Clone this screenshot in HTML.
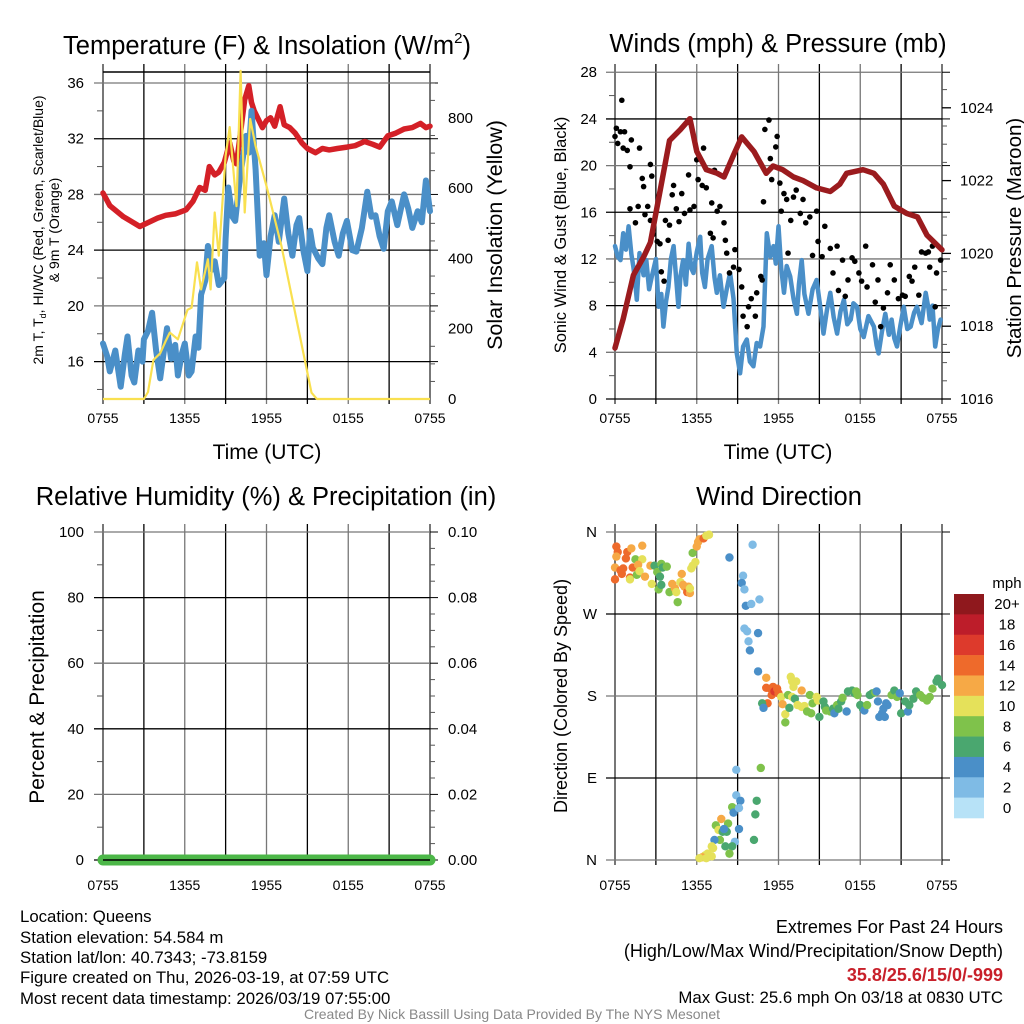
<!DOCTYPE html>
<html><head><meta charset="utf-8"><style>
html,body{margin:0;padding:0;background:#fff;}
svg{display:block;font-family:"Liberation Sans",Arial,sans-serif;}
</style></head><body>
<svg id="chart" xmlns="http://www.w3.org/2000/svg" width="1024" height="1024" viewBox="0 0 1024 1024">
<rect x="0" y="0" width="1024" height="1024" fill="#fff"/>
<g id="p1"></g>
<g id="p2"></g>
<g id="p3"></g>
<g id="p4"></g>

<text x="267" y="54" font-size="25.5" text-anchor="middle">Temperature (F) &amp; Insolation (W/m<tspan font-size="15" dy="-11">2</tspan><tspan dy="11">)</tspan></text>
<text transform="translate(43,230) rotate(-90)" font-size="14" text-anchor="middle">2m T, T<tspan font-size="9" dy="3">d</tspan><tspan dy="-3">, HI/WC (Red, Green, Scarlet/Blue)</tspan></text>
<text transform="translate(59,230) rotate(-90)" font-size="14" text-anchor="middle">&amp; 9m T (Orange)</text>
<text transform="translate(502,235) rotate(-90)" font-size="21.5" text-anchor="middle">Solar Insolation (Yellow)</text>
<text x="267" y="459" font-size="21" text-anchor="middle">Time (UTC)</text>

<text x="778" y="52" font-size="25.5" text-anchor="middle">Winds (mph) &amp; Pressure (mb)</text>
<text transform="translate(566,235) rotate(-90)" font-size="16.5" text-anchor="middle">Sonic Wind &amp; Gust (Blue, Black)</text>
<text transform="translate(1021,238) rotate(-90)" font-size="20.5" text-anchor="middle">Station Pressure (Maroon)</text>
<text x="778" y="459" font-size="21" text-anchor="middle">Time (UTC)</text>

<text x="266" y="505" font-size="25.5" text-anchor="middle">Relative Humidity (%) &amp; Precipitation (in)</text>
<text transform="translate(44,697) rotate(-90)" font-size="21" text-anchor="middle">Percent &amp; Precipitation</text>

<text x="779" y="505" font-size="25.5" text-anchor="middle">Wind Direction</text>
<text transform="translate(567,696) rotate(-90)" font-size="18" text-anchor="middle">Direction (Colored By Speed)</text>

<g font-size="16.8">
<text x="20" y="922">Location: Queens</text>
<text x="20" y="943">Station elevation: 54.584 m</text>
<text x="20" y="963">Station lat/lon: 40.7343; -73.8159</text>
<text x="20" y="983">Figure created on Thu, 2026-03-19, at 07:59 UTC</text>
<text x="20" y="1004">Most recent data timestamp: 2026/03/19 07:55:00</text>
</g>
<g font-size="18" text-anchor="end">
<text x="1003" y="933">Extremes For Past 24 Hours</text>
<text x="1003" y="957">(High/Low/Max Wind/Precipitation/Snow Depth)</text>
<text x="1003" y="981" fill="#c8202a" font-weight="bold">35.8/25.6/15/0/-999</text>
<text x="1003" y="1003" font-size="16.8">Max Gust: 25.6 mph On 03/18 at 0830 UTC</text>
</g>
<text x="512" y="1019" font-size="14" fill="#888" text-anchor="middle">Created By Nick Bassill Using Data Provided By The NYS Mesonet</text>
</svg>
<script>
// ---- data ----
const timeLabels = ["0755","1355","1955","0155","0755"];
const tempTicks = [36,32,28,24,20,16];
const insolTicks = [800,600,400,200,0];
const windTicks = [28,24,20,16,12,8,4,0];
const presTicks = [1024,1022,1020,1018,1016];
const rhTicks = [100,80,60,40,20,0];
const precipTicks = ["0.10","0.08","0.06","0.04","0.02","0.00"];
const dirLabels = ["N","W","S","E","N"];
const dirTickVals = [360,270,180,90,0];
const speedBins = ["20+","18","16","14","12","10","8","6","4","2","0"];

const tempHours = [0,0.5,1.5,2.7,4.0,4.6,5.3,6.1,6.6,7.1,7.5,7.8,8.2,8.5,8.9,9.3,9.6,9.8,10.1,10.4,10.7,10.9,11.1,11.4,11.7,12.0,12.3,12.6,13.0,13.3,13.7,14.1,14.6,15.0,15.6,16.1,16.6,17.2,17.9,18.5,19.2,19.8,20.3,20.6,20.9,21.5,22.1,22.7,23.3,23.7,24];
const tempVals  = [28.1,27.2,26.4,25.7,26.3,26.5,26.6,26.9,27.5,28.5,28.3,30.0,29.4,29.6,30.3,31.7,30.4,30.2,32.5,34.8,35.8,34.6,34.0,33.4,32.8,33.3,33.5,32.9,34.3,33.0,32.8,32.4,31.7,31.3,31.0,31.3,31.2,31.3,31.4,31.5,31.8,31.6,31.4,31.8,32.2,32.4,32.7,32.8,33.1,32.8,32.9];

const dewHours = [0,0.3,0.5,0.9,1.3,1.6,1.8,2.1,2.3,2.6,2.9,3.0,3.3,3.6,3.9,4.2,4.5,4.7,5.0,5.3,5.5,5.8,6.0,6.3,6.5,6.8,7.0,7.2,7.5,7.7,8.0,8.2,8.5,8.9,9.0,9.2,9.5,9.7,10.0,10.2,10.5,10.7,10.9,11.2,11.5,11.8,12.0,12.3,12.6,12.9,13.3,13.6,13.9,14.2,14.4,14.7,15.0,15.2,15.4,15.8,16.1,16.4,16.6,17.0,17.3,17.6,17.9,18.3,18.6,19.0,19.4,19.7,20.0,20.3,20.6,20.9,21.2,21.6,22.1,22.4,22.7,23.1,23.4,23.7,24];
const dewVals  = [17.3,16.4,15.3,16.8,14.2,16.5,17.8,15.0,14.5,16.8,16.0,17.6,18.2,19.5,16.8,14.8,17.0,18.4,16.2,17.2,15.0,16.6,17.3,15.0,15.3,17.8,17.0,20.8,21.8,24.3,22.6,23.2,21.5,22.0,24.8,28.5,26.4,26.1,28.8,30.2,32.2,31.0,34.0,29.8,23.6,24.5,22.2,25.0,26.5,24.6,27.7,25.2,23.6,25.8,26.3,24.0,22.5,25.4,24.2,23.4,23.0,25.6,26.5,24.6,23.6,25.2,26.1,24.0,23.9,25.6,28.2,26.4,26.5,25.0,24.1,26.8,27.5,25.8,28.0,27.0,25.6,26.8,26.0,29.0,26.8];

const insHours = [0,3.0,3.3,3.7,4.2,4.6,4.9,5.5,6.2,6.5,6.9,7.2,7.7,7.9,8.2,8.5,9.0,9.3,9.8,10.1,10.4,10.8,11.2,12.0,13.1,14.3,15.3,15.7,24];
const insVals  = [0,0,20,111,130,165,189,170,254,260,389,312,398,312,531,408,692,774,549,934,531,797,720,606,435,208,18,0,0];

const presHours = [0,0.6,1.35,2.1,2.6,3.2,4.0,4.8,5.5,6.0,6.7,7.5,8.0,8.7,9.3,10.2,11.1,11.6,12.3,13.1,13.8,14.8,15.8,16.5,17.0,18.2,19.0,19.7,20.5,21.4,22.2,22.9,24];
const presVals  = [1017.4,1018.2,1019.4,1019.9,1020.3,1021.5,1023.1,1023.4,1023.7,1022.8,1022.3,1022.2,1022.1,1022.7,1023.2,1022.8,1022.2,1022.4,1022.3,1022.1,1022.0,1021.8,1021.7,1021.9,1022.2,1022.3,1022.2,1021.9,1021.3,1021.1,1021.0,1020.5,1020.1];

const sonicHours = [0,0.2,0.4,0.6,0.8,1.0,1.2,1.35,1.5,1.6,1.8,2.1,2.3,2.5,2.7,3.0,3.2,3.4,3.55,3.75,3.92,4.1,4.3,4.5,4.65,4.8,5.0,5.2,5.4,5.6,5.76,6.0,6.25,6.4,6.6,6.8,7.1,7.3,7.47,7.7,7.96,8.2,8.45,8.7,8.94,9.18,9.4,9.67,9.9,10.16,10.4,10.65,10.9,11.14,11.4,11.63,11.8,12.0,12.2,12.4,12.6,12.86,13.1,13.35,13.5,13.7,13.9,14.2,14.5,14.8,15.05,15.3,15.55,15.8,16.05,16.3,16.55,16.8,17.05,17.3,17.5,17.76,18.0,18.25,18.6,19.0,19.2,19.35,19.6,19.84,20.1,20.3,20.5,20.7,20.95,21.2,21.45,21.7,21.95,22.16,22.5,22.8,23.0,23.1,23.3,23.5,23.7,23.9];
const sonicVals  = [13.1,12.2,11.9,14.2,12.8,14.8,12.4,11.3,9.8,8.5,12.5,10.6,11.9,9.4,10.5,12.0,7.9,9.0,6.2,8.4,9.6,12.0,13.1,10.2,7.9,10.5,11.9,9.8,13.3,11.2,10.8,12.6,13.9,10.8,9.6,12.0,13.1,10.4,9.1,10.6,7.9,9.4,10.8,8.6,3.9,2.2,4.5,5.1,3.2,2.8,4.8,4.5,6.2,14.2,12.2,13.1,11.6,14.8,11.2,9.1,11.4,10.5,8.6,7.3,9.8,11.9,9.0,7.3,9.4,10.2,8.0,5.6,7.6,9.1,7.0,5.6,7.5,8.5,6.4,6.8,8.2,7.9,6.0,5.3,7.1,6.2,4.6,3.9,5.8,7.3,5.5,6.8,5.2,4.5,6.3,7.9,6.0,6.2,7.4,7.9,6.5,9.1,7.8,6.8,8.0,4.5,6.0,6.8];

const gustHours = [0,0.1,0.2,0.4,0.5,0.6,0.7,0.9,1.1,1.2,1.8,2.0,2.1,2.6,2.7,1.1,1.5,1.7,2.2,2.4,2.6,2.8,3.1,3.3,3.4,3.6,3.7,3.9,4.0,4.2,4.3,4.5,4.7,4.9,5.1,5.4,5.5,5.8,6.0,6.1,6.4,6.5,6.7,7.0,7.1,7.2,7.3,7.5,7.7,8.0,8.1,8.2,8.4,8.7,8.8,9.1,9.3,9.4,9.7,9.8,10.0,10.3,10.4,10.7,10.8,10.9,11.0,11.3,11.4,11.5,11.8,11.9,12.1,12.2,12.4,12.6,12.7,12.9,13.1,13.3,13.6,13.8,14.0,14.3,14.5,14.8,14.9,15.2,15.4,15.8,16.0,16.3,16.4,16.7,16.9,17.1,17.4,17.6,17.9,18.1,18.4,18.5,18.9,19.1,19.3,19.5,19.7,20.0,20.2,20.5,20.8,21.1,21.3,21.6,21.8,22.0,22.3,22.5,22.8,23.0,23.1,23.3,23.5,23.6,23.9];
const gustVals  = [22.5,23.2,21.9,22.9,25.6,21.5,22.9,21.3,19.9,22.2,21.5,18.9,18.2,20.1,19.1,16.3,15.1,16.5,15.8,16.5,15.3,14.1,13.5,13.3,10.9,10.1,15.3,13.6,14.9,17.5,18.3,16.3,15.2,17.6,15.9,19.2,16.2,16.5,20.5,18.8,18.3,21.5,18.1,14.2,16.8,13.8,19.6,16.1,16.5,15.1,13.6,12.5,10.8,11.3,12.8,11.1,9.6,7.1,6.2,7.9,8.6,7.1,9.1,10.5,10.2,16.9,23.1,23.9,20.6,18.8,21.6,22.5,18.5,16.1,17.6,17.1,12.5,15.3,17.3,17.9,15.9,17.1,15.1,15.6,12.3,16.1,13.5,12.2,14.8,12.9,10.8,13.1,9.3,11.9,8.8,10.2,12.1,11.8,10.8,10.1,13.1,9.6,11.5,8.3,10.2,6.2,7.8,9.1,11.5,10.2,8.6,8.9,8.8,10.5,10.1,11.3,8.9,12.6,12.5,12.6,11.3,13.1,7.9,10.8,11.9];

const dirHours = [0.1,0.2,0.1,0.9,0.8,1.2,2.0,1.5,2.0,0,0.4,0.6,1.3,1.7,0.5,0,1.1,1.1,1.6,1.8,2.2,2.6,2.9,2.7,3.1,3.4,3.5,3.8,3.3,3.2,3.4,4.0,4.2,4.4,4.5,4.6,4.9,4.8,5.0,5.1,5.3,5.5,5.4,5.5,5.6,5.7,5.9,5.7,6.0,6.1,6.2,6.5,6.7,6.9,
8.4,10.1,9.4,9.3,9.5,9.6,10.0,10.6,9.5,9.7,9.8,9.9,10.5,10.5,
11.1,11.1,11.4,11.6,11.5,11.7,11.9,12.0,11.2,10.8,10.9,12.2,12.3,12.5,12.5,12.8,12.9,13.1,13.0,13.3,13.7,12.7,13.0,13.2,13.4,13.7,13.9,14.1,14.3,14.4,14.5,14.8,14.9,15.0,15.3,15.4,15.5,15.8,16.0,16.1,16.3,16.4,16.6,16.7,17.0,17.1,17.4,17.6,17.7,17.8,18.0,18.2,18.3,18.5,18.7,18.9,19.1,19.2,19.3,19.4,19.6,19.7,19.8,19.9,20.0,20.3,20.5,20.7,20.9,21.0,21.3,21.5,21.6,21.9,22.1,22.4,22.6,22.9,23.1,23.3,23.6,23.7,24.0,
8.9,10.7,8.9,9.2,10.4,8.6,8.7,9.1,10.3,7.8,7.4,7.6,7.9,8.2,8.3,8.0,7.7,7.3,9.1,8.8,10.2,8.1,8.6,8.4,7.1,7.2,6.8,6.6,6.4,6.7,7.1,6.2];
const dirVals = [344,338,333,338,331,342,345,330,330,321,318,320,321,324,314,308,310,308,313,317,311,323,323,303,316,325,321,322,311,297,302,294,303,298,294,283,314,305,302,300,294,293,300,298,320,323,327,337,344,349,352,353,356,357,
332,346,312,304,297,279,281,286,254,251,240,230,249,207,
200,189,188,190,181,185,188,183,172,172,167,179,171,160,151,167,201,190,196,196,186,181,179,177,170,168,169,163,181,161,172,179,175,157,174,168,164,163,166,161,170,166,174,178,163,185,186,183,185,181,170,166,164,170,181,183,184,185,174,157,161,166,157,172,170,181,186,179,183,161,174,163,170,177,185,181,178,175,179,188,196,199,192,
99,101,71,65,65,58,52,57,50,45,38,33,31,31,40,34,22,22,34,20,22,15,15,7,15,13,7,5,3,2,4,2];
const dirSpeeds = [14,14,12,14,14,12,12,8,10,12,14,14,14,12,14,14,14,10,8,10,12,12,6,10,8,8,6,8,6,8,6,8,12,12,10,8,12,10,12,12,14,12,12,10,10,10,10,8,12,12,12,14,10,10,
4,2,2,4,2,4,2,2,2,2,2,4,4,4,
12,14,14,14,14,16,14,14,14,6,4,10,12,10,8,6,10,10,10,10,12,8,10,6,10,10,10,8,8,8,8,10,10,6,6,6,8,8,6,4,8,6,6,8,4,6,6,6,8,8,6,6,4,8,6,6,8,4,4,4,4,4,4,4,4,8,6,8,4,6,6,4,6,6,6,8,8,8,8,8,6,6,
6,2,8,2,4,6,8,4,2,6,12,8,10,6,6,8,4,8,4,4,2,6,6,6,8,10,10,10,10,12,10,10];

const precipHours = [0,24];
const precipVals = [0,0];

// ---- helpers ----
const NS = "http://www.w3.org/2000/svg";
function mk(parent, tag, attrs){
  const e = document.createElementNS(NS, tag);
  for (const k in attrs) e.setAttribute(k, attrs[k]);
  parent.appendChild(e);
  return e;
}
function txt(parent, x, y, s, anchor, size){
  const t = mk(parent, "text", {x:x, y:y, "font-size":size||14, "text-anchor":anchor||"middle"});
  t.textContent = s;
  return t;
}
function linePath(xs, ys, fx, fy){
  let d = "";
  const n = Math.min(xs.length, ys.length);
  for (let i=0;i<n;i++) d += (i?"L":"M") + fx(xs[i]).toFixed(1) + "," + fy(ys[i]).toFixed(1);
  return d;
}
function speedColor(s){
  const cols = ["#b7e2f7","#7fbbe5","#4a8fc8","#4aa76f","#7fc24b","#e5e15a","#f6a946","#ee6a2b","#dd3a2c","#bd1d2a","#8f181d"];
  if (s === undefined || isNaN(s)) s = 10;
  const i = Math.min(10, Math.max(0, Math.round(s/2)));
  return cols[i];
}

function frame(g, X0, X1, Y0, Y1, hLines, minorYs, rightMinor, panelName){
  for (let k=0;k<=8;k++){
    const x = X0 + k*(X1-X0)/8;
    const l = mk(g,"line",{x1:x,x2:x,y1:Y0-8,y2:Y1+5,stroke:(k%2?"#000":"#777"),"stroke-width":(k===0||k===8)?2:1.3});
    
    
  }
  hLines.forEach((y,i)=>{
    const l = mk(g,"line",{x1:X0-9,x2:X1,y1:y,y2:y,stroke:(i%2?"#000":"#777"),"stroke-width":1.3});
    
    
    const r = mk(g,"line",{x1:X1,x2:X1+8,y1:y,y2:y,stroke:"#000","stroke-width":1});
    
    
  });
  minorYs.forEach(y=>{
    const l = mk(g,"line",{x1:X0-6,x2:X0,y1:y,y2:y,stroke:"#555","stroke-width":1});
    
    
  });
  rightMinor.forEach(y=>{
    const l = mk(g,"line",{x1:X1,x2:X1+5,y1:y,y2:y,stroke:"#555","stroke-width":1});
    
    
  });
}

// ===== Panel 1 =====
(function(){
  const g = document.getElementById("p1");
  const X0=103,X1=430;
  const sx = h => X0 + h*(X1-X0)/24;
  const yT = t => 83 + (36-t)*13.93;
  const yW = w => 399 - w*0.3513;
  const minor=[]; for (let t=34;t>=14;t-=4) minor.push(yT(t));
  const rminor=[]; for (let w=900;w>=50;w-=50) if (w%200) rminor.push(yW(w));
  frame(g,X0,X1,72,399,tempTicks.map(yT),minor,rminor,"temperature");
  const top = mk(g,"line",{x1:X0,x2:X1,y1:72,y2:72,stroke:"#000","stroke-width":1.5});
  
  
  const bot = mk(g,"line",{x1:X0,x2:X1,y1:399,y2:399,stroke:"#000","stroke-width":1.5});
  
  
  tempTicks.forEach(t=>{ const e=txt(g,84,yT(t)+5,String(t),"end",15);
    
     });
  insolTicks.forEach(w=>{ const e=txt(g,448,yW(w)+5,String(w),"start",15);
    
     });
  timeLabels.forEach((s,i)=>{ const e=txt(g,sx(i*6),423,s,"middle",14);
    
     });
  const red = mk(g,"path",{d:linePath(tempHours,tempVals,sx,yT),fill:"none",stroke:"#d42027","stroke-width":5.5,"stroke-linejoin":"round","stroke-linecap":"round"});
  
  
  const blue = mk(g,"path",{d:linePath(dewHours,dewVals,sx,yT),fill:"none",stroke:"#4a8fc8","stroke-width":6,"stroke-linejoin":"round","stroke-linecap":"round"});
  
  
  const yel = mk(g,"path",{d:linePath(insHours,insVals,sx,yW),fill:"none",stroke:"#f9e050","stroke-width":2.2,"stroke-linejoin":"round"});
  
  
})();

// ===== Panel 2 =====
(function(){
  const g = document.getElementById("p2");
  const X0=615,X1=942;
  const sx = h => X0 + h*(X1-X0)/24;
  const yV = v => 399 - v*11.67;
  const yP = p => 399 - (p-1016)*36.4;
  const minor=[]; for (let v=26;v>=2;v-=4) minor.push(yV(v));
  const rminor=[]; for (let p=1016.5;p<1025;p+=0.5) if ((p*2)%4) rminor.push(yP(p));
  frame(g,X0,X1,72,399,windTicks.map(yV),minor,rminor,"winds");
  presTicks.forEach(p=>{ const l=mk(g,"line",{x1:X1,x2:X1+9,y1:yP(p),y2:yP(p),stroke:"#000","stroke-width":1.3});
    
     });
  windTicks.forEach(v=>{ const e=txt(g,597,yV(v)+5,String(v),"end",15);
    
     });
  presTicks.forEach(p=>{ const e=txt(g,960,yP(p)+5,String(p),"start",15);
    
     });
  timeLabels.forEach((s,i)=>{ const e=txt(g,sx(i*6),423,s,"middle",14);
    
     });
  const bl = mk(g,"path",{d:linePath(sonicHours,sonicVals,sx,yV),fill:"none",stroke:"#4a8fc8","stroke-width":4.5,"stroke-linejoin":"round","stroke-linecap":"round"});
  
  
  for (let i=0;i<gustHours.length;i++){
    const c = mk(g,"circle",{cx:sx(gustHours[i]),cy:yV(gustVals[i]),r:2.8,fill:"#000"});
    
    
  }
  const pr = mk(g,"path",{d:linePath(presHours,presVals,sx,yP),fill:"none",stroke:"#9b1b1e","stroke-width":5.5,"stroke-linejoin":"round","stroke-linecap":"round"});
  
  
})();

// ===== Panel 3 =====
(function(){
  const g = document.getElementById("p3");
  const X0=103,X1=430;
  const sx = h => X0 + h*(X1-X0)/24;
  const yR = r => 860 - r*3.28;
  const minor=[]; for (let r=90;r>=10;r-=20) minor.push(yR(r));
  const rminor=[]; for (let r=95;r>0;r-=5) if (r%20) rminor.push(yR(r));
  frame(g,X0,X1,532,860,rhTicks.map(yR),minor,rminor,"humidity");
  rhTicks.forEach(r=>{ const e=txt(g,84,yR(r)+5,String(r),"end",15);
    
     });
  precipTicks.forEach((s,i)=>{ const e=txt(g,448,yR(rhTicks[i])+5,s,"start",15);
    
     });
  timeLabels.forEach((s,i)=>{ const e=txt(g,sx(i*6),890,s,"middle",14);
    
     });
  const yPr = p => 860 - p*3280;
  const gr = mk(g,"path",{d:linePath(precipHours,precipVals,sx,yPr),fill:"none",stroke:"#4cb748","stroke-width":11,"stroke-linecap":"round"});
  
  
  const bot = mk(g,"line",{x1:X0,x2:X1,y1:860,y2:860,stroke:"#000","stroke-width":1.5});
  
  
})();

// ===== Panel 4 =====
(function(){
  const g = document.getElementById("p4");
  const X0=615,X1=942;
  const sx = h => X0 + h*(X1-X0)/24;
  const yD = d => 860 - d*(328/360);
  frame(g,X0,X1,532,860,dirTickVals.map(yD),[],[],"direction");
  dirLabels.forEach((s,i)=>{ const e=txt(g,597,yD(dirTickVals[i])+5,s,"end",15);
    
     });
  timeLabels.forEach((s,i)=>{ const e=txt(g,sx(i*6),890,s,"middle",14);
    
     });
  const n = Math.min(dirHours.length, dirVals.length);
  for (let i=0;i<n;i++){
    const c = mk(g,"circle",{cx:sx(dirHours[i]),cy:yD(dirVals[i]),r:4.2,fill:speedColor(dirSpeeds[i])});
    
    
  }
  const lg = mk(g,"g",{});
  
  
  const ut = txt(lg,1007,588,"mph","middle",15);
  
  
  const bh = (818-594)/11;
  speedBins.forEach((s,i)=>{
    const val = s==="20+" ? 20 : Number(s);
    const r = mk(lg,"rect",{x:954,y:594+i*bh,width:30,height:bh+0.3,fill:speedColor(val)});
    
    
    const t = txt(lg,1007,594+i*bh+bh/2+5,s,"middle",15);
    
    
  });
})();
</script>
</body></html>
